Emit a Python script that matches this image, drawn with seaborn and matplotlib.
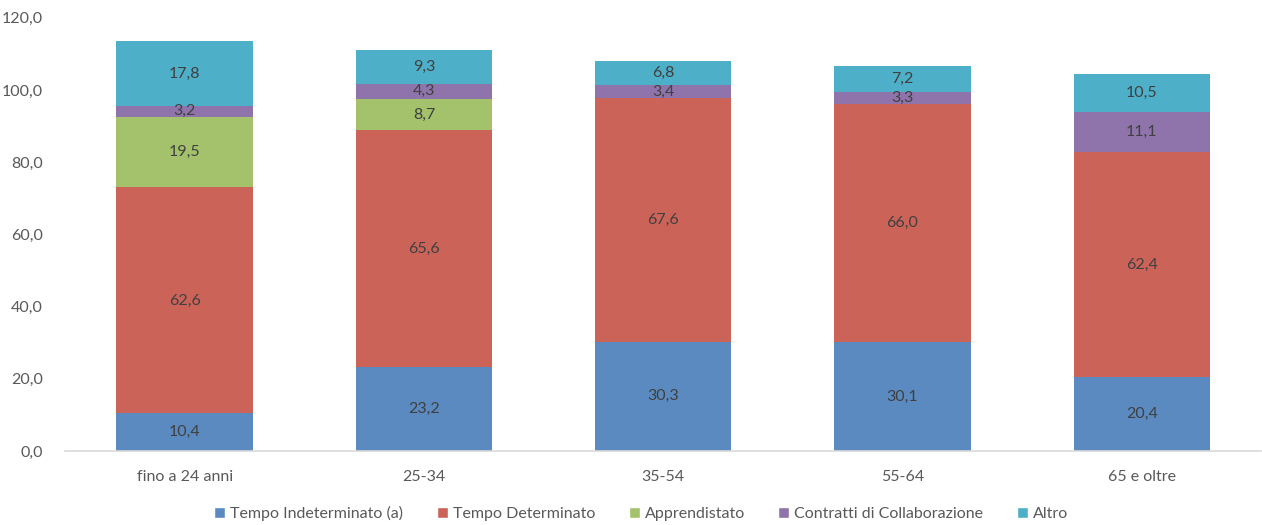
import numpy as np
import pandas as pd
import seaborn as sns
import matplotlib.pyplot as plt
from matplotlib.patches import Patch

categories = ['fino a 24 anni', '25-34', '35-54', '55-64', '65 e oltre']
series = ['Tempo Indeterminato (a)', 'Tempo Determinato', 'Apprendistato',
          'Contratti di Collaborazione', 'Altro']
indeterminato = [10.4, 23.2, 30.3, 30.1, 20.4]
determinato = [62.6, 65.6, 67.6, 66.0, 62.4]
apprendistato = [19.5, 8.7, 0.0, 0.0, 0.0]
collaborazione = [3.2, 4.3, 3.4, 3.3, 11.1]
altro = [17.8, 9.3, 6.8, 7.2, 10.5]
yticks = [0, 20, 40, 60, 80, 100, 120]

colors = ['#5a8ac0', '#cb6359', '#a3c26b', '#8e74ab', '#4eafc8']
values = [indeterminato, determinato, apprendistato, collaborazione, altro]

sns.set_style('white')
plt.rcParams['font.family'] = ['Lato', 'DejaVu Sans']

fig = plt.figure(figsize=(12.62, 5.25), dpi=100)
ax = fig.add_axes([0.0515, 0.141, 0.948, 0.825])

bottom = np.zeros(len(categories))
for name, vals, col in zip(series, values, colors):
    vals = np.array(vals)
    sns.barplot(x=categories, y=vals, bottom=bottom, color=col, width=0.57,
                ax=ax, saturation=1, linewidth=0)
    cont = ax.containers[-1]
    labels = [f'{v:.1f}'.replace('.', ',') if v > 0 else '' for v in vals]
    ax.bar_label(cont, labels=labels, label_type='center', fontsize=11.5,
                 color='#404040')
    bottom = bottom + vals

ax.set_ylim(0, 120)
ax.set_xlim(-0.5, 4.5)
ax.set_yticks(yticks)
ax.set_yticklabels([f'{t:.1f}'.replace('.', ',') for t in yticks])
ax.tick_params(axis='y', length=0, pad=16, labelsize=11.5, labelcolor='#595959')
ax.tick_params(axis='x', length=0, pad=14, labelsize=11.5, labelcolor='#595959')
for s in ['top', 'right', 'left']:
    ax.spines[s].set_visible(False)
ax.spines['bottom'].set_color('#d9d9d9')
ax.spines['bottom'].set_linewidth(1.2)
ax.set_xlabel('')
ax.set_ylabel('')

handles = [Patch(facecolor=c, label=n) for n, c in zip(series, colors)]
fig.legend(handles=handles, loc='lower center', ncol=5, frameon=False,
           bbox_to_anchor=(0.508, -0.02), fontsize=11.5, handlelength=0.7,
           handleheight=0.7, handletextpad=0.3, columnspacing=2.1,
           labelcolor='#595959')

fig.savefig('out.png', dpi=100)
